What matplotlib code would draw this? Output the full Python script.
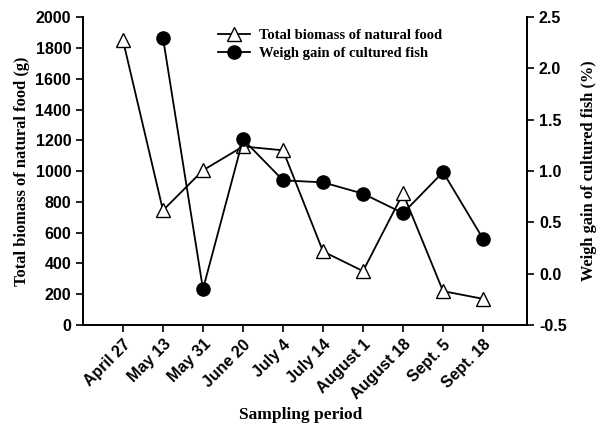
import matplotlib.pyplot as plt
import numpy as np

dates = ["April 27", "May 13", "May 31", "June 20", "July 4", "July 14",
         "August 1", "August 18", "Sept. 5", "Sept. 18"]
biomass = [1850, 745, 1005, 1160, 1135, 478, 350, 855, 220, 170]
# no weight gain value for the first sampling
weight_gain = [np.nan, 2.30, -0.15, 1.31, 0.91, 0.89, 0.78, 0.59, 0.99, 0.34]

serif = "Liberation Serif"
sans = "Liberation Sans"

fig = plt.figure(figsize=(6.01, 4.29), dpi=100)
ax = fig.add_axes([0.138, 0.2424, 0.739, 0.7176])
ax2 = ax.twinx()

x = np.arange(len(dates))
l1, = ax.plot(x, biomass, color="black", lw=1.3, marker="^", markersize=9.5,
              markerfacecolor="white", markeredgecolor="black", markeredgewidth=1,
              label="Total biomass of natural food")
l2, = ax2.plot(x, weight_gain, color="black", lw=1.3, marker="o", markersize=9.5,
               markerfacecolor="black", label="Weigh gain of cultured fish")

ax.set_xlim(-1, 10.1)
ax.set_ylim(0, 2000)
ax.set_yticks(range(0, 2001, 200))
ax2.set_ylim(-0.5, 2.5)
ax2.set_yticks(np.arange(-0.5, 2.51, 0.5))
ax2.set_yticklabels(["%.1f" % v for v in np.arange(-0.5, 2.51, 0.5)])

ax.set_xticks(x)
ax.set_xticklabels(dates, rotation=45, ha="right", rotation_mode="anchor")

for a in (ax, ax2):
    a.spines["top"].set_visible(False)
    for s in a.spines.values():
        s.set_linewidth(1.3)
    a.tick_params(direction="out", width=1.2, length=5)
    for lab in a.get_xticklabels() + a.get_yticklabels():
        lab.set_fontfamily(sans)
        lab.set_fontweight("bold")
        lab.set_fontsize(11.5)

ax.set_ylabel("Total biomass of natural food (g)", fontfamily=serif,
              fontweight="bold", fontsize=11.8, labelpad=4)
ax2.set_ylabel("Weigh gain of cultured fish (%)", fontfamily=serif,
               fontweight="bold", fontsize=11.8, labelpad=10)
fig.text(0.5, 0.033, "Sampling period", fontfamily=serif, fontweight="bold",
         fontsize=12.5, ha="center", va="center")

ax.legend([l1, l2], [l1.get_label(), l2.get_label()], loc="upper left",
          bbox_to_anchor=(0.275, 1.005), frameon=False, handlelength=2.2,
          handletextpad=0.6,
          prop={"family": serif, "weight": "bold", "size": 10.5},
          labelspacing=0.35)

fig.savefig("out.png", dpi=100)
